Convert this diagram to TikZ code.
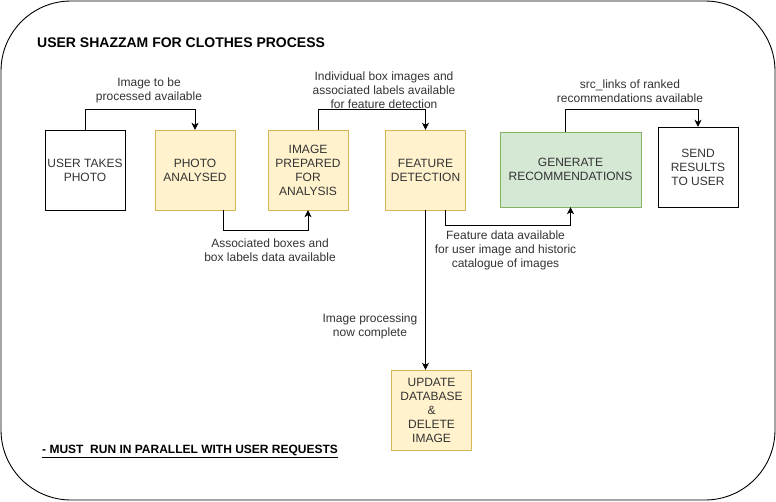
\documentclass[tikz,border=0pt]{standalone}
\usepackage{fontspec}
\setmainfont{Liberation Sans}
\usetikzlibrary{arrows.meta}
\definecolor{ylwfill}{HTML}{FFF2CC}
\definecolor{ylwline}{HTML}{D6B656}
\definecolor{grnfill}{HTML}{D5E8D4}
\definecolor{grnline}{HTML}{82B366}
\tikzset{
	proc/.style={draw, minimum width=80pt, minimum height=80pt, inner sep=0pt, align=center, text=black!80, font=\fontsize{12}{14}\selectfont},
	ylw/.style={proc, fill=ylwfill, draw=ylwline},
	grn/.style={proc, fill=grnfill, draw=grnline},
	lbl/.style={align=center, inner sep=0pt, text=black!80, font=\fontsize{12}{14}\selectfont},
	flow/.style={-{Stealth[length=7pt,width=7pt,inset=2pt]}, line width=0.9pt}
}

\begin{document}
\begin{tikzpicture}[x=1pt, y=-1pt]
	\useasboundingbox (0,0) rectangle (776,501);
	\draw[rounded corners=70pt, line width=0.9pt] (1,1) rectangle (775,500);
		\node[anchor=west, inner sep=0pt, font=\fontsize{14}{16}\selectfont\bfseries] (title) at (37,43) {USER SHAZZAM FOR CLOTHES PROCESS};
		\node[anchor=west, inner sep=0pt, font=\fontsize{12}{14}\selectfont\bfseries] (note) at (42,451) {\underline{- MUST\ \ RUN IN PARALLEL WITH USER REQUESTS}};
%
	\node[proc] (user) at (85,170) {USER TAKES\\PHOTO};
	\node[ylw] (photo) at (195,170) {PHOTO\\ANALYSED};
	\node[ylw] (prep) at (308,170) {IMAGE\\PREPARED\\FOR\\ANALYSIS};
	\node[ylw] (feat) at (425.5,170) {FEATURE\\DETECTION};
	\node[grn, minimum width=141pt, minimum height=75pt] (gen) at (570.5,169.5) {GENERATE\\RECOMMENDATIONS};
	\node[proc] (send) at (698,167) {SEND\\RESULTS\\TO USER};
	\node[ylw] (upd) at (431.5,410) {UPDATE\\DATABASE\\\&\\DELETE\\IMAGE};
%
	\draw[flow] (user.north) -- ++(0,-20) -| (photo.north);
		\node[lbl] (l1) at (149,90.5) {Image to be\\processed available};
	\draw[flow] ([xshift=-12pt]photo.south east) -- ++(0,20) -| (prep.south);
		\node[lbl] (l2) at (270,250) {Associated boxes and\\box labels data available};
	\draw[flow] ([xshift=10pt]prep.north) -- ++(0,-20) -| (feat.north);
		\node[lbl] (l3) at (384,90) {Individual box images and\\associated labels available\\for feature detection};
	\draw[flow] ([xshift=-20pt]feat.south east) -- ++(0,15) -| (gen.south);
		\node[lbl] (l4) at (505.5,250) {Feature data available\\for user image and historic\\catalogue of images};
	\draw[flow] ([xshift=-5pt]gen.north) -- ++(0,-22) -| (send.north);
		\node[lbl] (l5) at (630,91) {src\_links of ranked\\recommendations available};
	\draw[flow] (feat.south) -- (feat.south |- upd.north);
		\node[lbl] (l6) at (370,326) {Image processing\\now complete};
\end{tikzpicture}
\end{document}
